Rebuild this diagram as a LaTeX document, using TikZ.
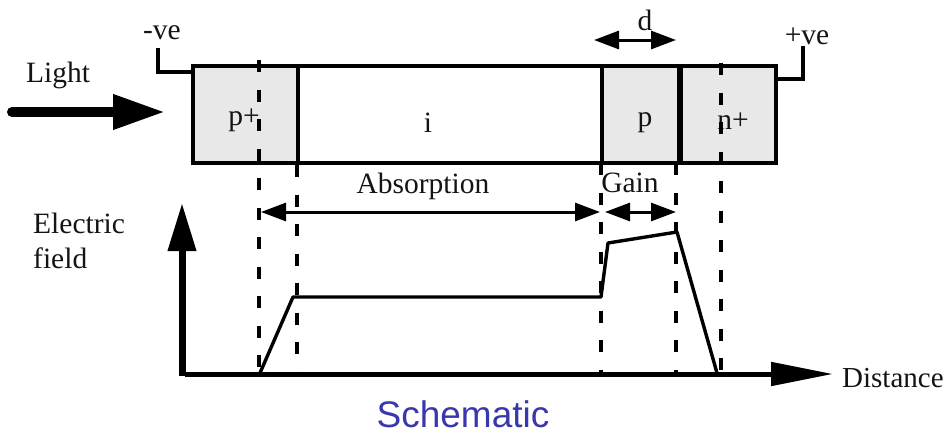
\documentclass[tikz,border=0pt]{standalone}
\usepackage{fontspec}
\setmainfont{Liberation Serif}
\newfontfamily\schemfont{Liberation Sans}
\usetikzlibrary{arrows.meta}
\definecolor{schem}{HTML}{3838AC}
\tikzset{
  region/.style={draw=black,line width=3.2pt,minimum height=97pt,inner sep=0pt,outer sep=0pt,anchor=north west},
  doped/.style={region,fill=black!9},
  intrinsic/.style={region,fill=white},
  lab/.style={font=\fontsize{29.5}{32}\selectfont,inner sep=0pt,text=black!92},
  guide/.style={line width=3.4pt,dash pattern=on 12pt off 17.5pt},
  wire/.style={line width=3.2pt,line join=miter},
  field/.style={line width=3.4pt,line join=round},
  dim/.style={line width=3pt,{Triangle[length=25pt,width=18pt]}-{Triangle[length=25pt,width=18pt]},shorten >=0pt,shorten <=0pt},
  axisline/.style={line width=5pt,-{Triangle[length=62pt,width=23pt]}},
}
\begin{document}
\begin{tikzpicture}[x=1pt,y=-1pt]
\useasboundingbox (0,0) rectangle (946,434);
% device regions
\node[doped,minimum width=105pt] (pplus) at (193,66) {};
\node[intrinsic,minimum width=304pt] (intr) at (298,66) {};
\node[doped,minimum width=77pt] (pgain) at (602,66) {};
\node[doped,minimum width=95pt] (nplus) at (681,66) {};
% guide coordinates
\coordinate (g1t) at (259,60); \coordinate (g1b) at (259,373);
\coordinate (g2t) at (297,165); \coordinate (g2b) at (297,373);
\coordinate (g3t) at (601,163); \coordinate (g3b) at (601,373);
\coordinate (g4t) at (676,163); \coordinate (g4b) at (676,373);
\coordinate (g5t) at (721,63); \coordinate (g5b) at (721,373);
% labels
\node[lab] (tp) at (244,120) {p+};
\node[lab] (ti) at (428,123) {i};
\node[lab] (tg) at (645,123) {p};
\node[lab] (tn) at (733,121) {n+};
\node[lab] (neg) at (162,33) {-ve};
\node[lab] (pos) at (807,36) {+ve};
\node[lab] (light) at (58,75) {Light};
\node[lab] (dlab) at (645,20) {d};
\node[lab] (absl) at (423,186) {Absorption};
\node[lab] (gainl) at (630,183) {Gain};
\node[lab,align=left,anchor=west] (ef) at (33,241) {Electric\\[3pt]field};
\node[lab,anchor=west,font=\fontsize{29}{32}\selectfont] (dist) at (842,378) {Distance};
\node[font=\schemfont\fontsize{37}{40}\selectfont,text=schem,inner sep=0pt] (sch) at (463,414) {Schematic};
% guides
\draw[guide] (g1t) -- (g1b);
\draw[guide] (g2t) -- (g2b);
\draw[guide] (g3t) -- (g3b);
\draw[guide] (g4t) -- (g4b);
\draw[guide] (g5t) -- (g5b);
% contact wires
\coordinate (nw) at (158,48); \coordinate (nw2) at (158,72);
\coordinate (pw) at (803,46); \coordinate (pw2) at (803,79);
\draw[wire] (nw) -- (nw2) -- (pplus.north west |- nw2);
\draw[wire] (pw) -- (pw2) -- (nplus.north east |- pw2);
% light arrow
\coordinate (ls) at (12,112); \coordinate (le) at (165,112);
\draw[line width=10pt,line cap=round,-{Triangle[length=52pt,width=33pt]}] (ls) -- (le);
% dimension arrows
\coordinate (d1) at (594,40); \coordinate (d2) at (676,40);
\draw[dim] (d1) -- (d2);
\coordinate (a1) at (261,212); \coordinate (a2) at (600,212);
\draw[dim] (a1) -- (a2);
\coordinate (b1) at (605,212); \coordinate (b2) at (676,212);
\draw[dim] (b1) -- (b2);
% axes
\coordinate (o) at (185,374); \coordinate (yt) at (182,203); \coordinate (xb) at (182,376); \coordinate (xt) at (833,374);
\draw[axisline,line width=7pt,-{Triangle[length=48pt,width=27pt]}] (xb) -- (yt);
\draw[axisline] (o) -- (xt);
% field profile
\coordinate (f0) at (260,373); \coordinate (f1) at (293,297); \coordinate (f2) at (601,297);
\coordinate (f3) at (608,243); \coordinate (f4) at (677,232); \coordinate (f5) at (717,373);
\draw[field] (f0) -- (f1) -- (f2) -- (f3) -- (f4) -- (f5);
\end{tikzpicture}
\end{document}
